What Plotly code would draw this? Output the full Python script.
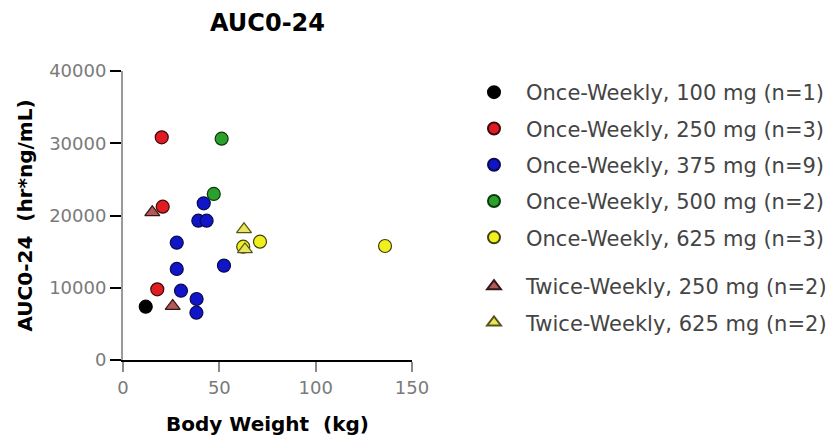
import plotly.graph_objects as go

# ---- data ----
ow100_x = [11.8]
ow100_y = [7380]
ow250_x = [20.1, 20.6, 17.8]
ow250_y = [30820, 21220, 9780]
ow375_x = [41.9, 39.1, 43.4, 27.9, 27.9, 52.4, 30.1, 38.2, 38.1]
ow375_y = [21690, 19280, 19280, 16240, 12600, 13060, 9590, 8440, 6550]
ow500_x = [51.2, 47.1]
ow500_y = [30630, 22980]
ow625_x = [62.4, 71.1, 136.0]
ow625_y = [15680, 16380, 15780]
tw250_x = [15.2, 25.8]
tw250_y = [20440, 7470]
tw625_x = [63.3, 62.8]
tw625_y = [15300, 18090]

names = [
    "Once-Weekly, 100 mg (n=1)",
    "Once-Weekly, 250 mg (n=3)",
    "Once-Weekly, 375 mg (n=9)",
    "Once-Weekly, 500 mg (n=2)",
    "Once-Weekly, 625 mg (n=3)",
    "Twice-Weekly, 250 mg (n=2)",
    "Twice-Weekly, 625 mg (n=2)",
]
x_ticks = [0, 50, 100, 150]
y_ticks = [0, 10000, 20000, 30000, 40000]
y_ticktext = ["0", "10000", "20000", "30000", "40000"]

FONT = "DejaVu Sans"

fig = go.Figure()

series = [
    (ow100_x, ow100_y, names[0], "circle", "#000000", "#000000", "legend"),
    (ow250_x, ow250_y, names[1], "circle", "#e01b22", "#3a0a0a", "legend"),
    (ow375_x, ow375_y, names[2], "circle", "#1016c8", "#0a0a50", "legend"),
    (ow500_x, ow500_y, names[3], "circle", "#2ba02d", "#0a3a0a", "legend"),
    (ow625_x, ow625_y, names[4], "circle", "#f2ef1e", "#404010", "legend"),
    (tw250_x, tw250_y, names[5], "triangle-up", "#b05a5c", "#3a1515", "legend2"),
    (tw625_x, tw625_y, names[6], "triangle-up", "#e8e65a", "#55551a", "legend2"),
]

for i, (xs, ys, nm, sym, fill, edge, lg) in enumerate(series):
    fig.add_trace(go.Scatter(
        x=xs, y=ys, mode="markers", name=nm,
        legend=lg, legendgroup=f"g{i}",
        marker=dict(symbol=sym, size=13, color=fill,
                    line=dict(color=edge, width=1.2)),
    ))

leg_common = dict(xref="container", yref="container", x=462 / 837, xanchor="left",
                  yanchor="top", traceorder="grouped", tracegroupgap=6,
                  itemsizing="constant", itemwidth=54,
                  font=dict(family=FONT, size=21, color="#444444"),
                  bgcolor="rgba(0,0,0,0)")

fig.update_layout(
    width=837, height=445,
    margin=dict(l=123, r=425, t=71, b=85, autoexpand=False),
    paper_bgcolor="white", plot_bgcolor="white",
    font=dict(family=FONT, color="#000000"),
    title=dict(text="AUC0-24", x=0.5, xref="paper", xanchor="center",
               y=1 - 22.5 / 445, yref="container", yanchor="middle",
               automargin=False,
               font=dict(family=FONT, size=24, weight="bold", color="#000000")),
    xaxis=dict(range=[0, 150], tickvals=x_ticks, ticks="outside", ticklen=10,
               tickwidth=2, tickcolor="#8a8a8a", showline=True, linewidth=2,
               linecolor="#000000", showgrid=False, zeroline=False,
               automargin=False,
               tickfont=dict(family=FONT, size=18, color="#7a7a7a"),
               title=dict(text="Body Weight  (kg)", standoff=20,
                          font=dict(family=FONT, size=20, weight="bold", color="#000000"))),
    yaxis=dict(range=[0, 40000], tickvals=y_ticks, ticktext=y_ticktext,
               ticks="outside", ticklen=11,
               tickwidth=2, tickcolor="#000000", showline=True, linewidth=2,
               linecolor="#9a9a9a", showgrid=False, zeroline=False,
               automargin=False,
               tickfont=dict(family=FONT, size=18, color="#7a7a7a"),
               title=dict(text="AUC0-24  (hr*ng/mL)", standoff=11,
                          font=dict(family=FONT, size=20, weight="bold", color="#000000"))),
    legend=dict(y=1 - 72 / 445, **leg_common),
    legend2=dict(y=1 - 266 / 445, **leg_common),
)

fig.write_html("out.html", config={"displayModeBar": False},
               post_script="document.body.style.margin='0';")
